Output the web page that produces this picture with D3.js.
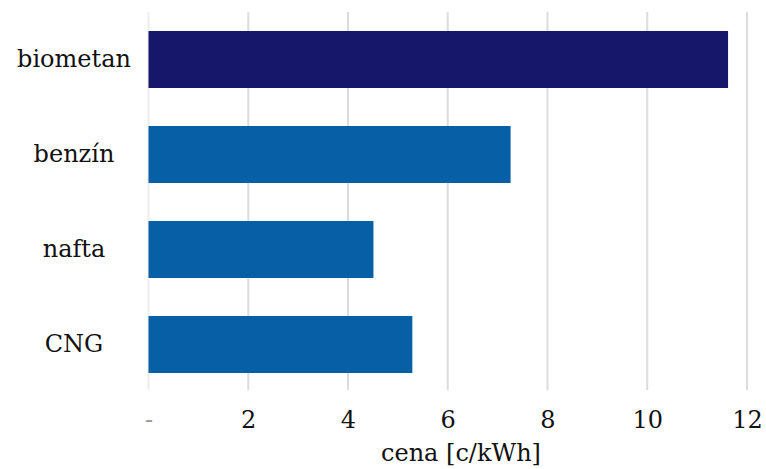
<!doctype html>
<html>
<head>
<style>
    body { margin: 0; background: #fff; }
    .grid line { stroke: #dcdcdc; stroke-width: 2; }
</style>
<script src="https://d3js.org/d3.v7.min.js"></script>
</head>
<body>
<svg width="766" height="469"></svg>
<script>
    var categories = ["biometan", "benzín", "nafta", "CNG"];
    var values = [11.62, 7.26, 4.51, 5.29];
    var colors = ["#16166a", "#075fa5", "#075fa5", "#075fa5"];
    var tickValues = [0, 2, 4, 6, 8, 10, 12];
    var tickLabels = ["-", "2", "4", "6", "8", "10", "12"];
    var axisTitle = "cena [c/kWh]";

    var serif = "'DejaVu Serif', serif";

    var svg = d3.select("svg");

    var x = d3.scaleLinear().domain([0, 12]).range([148.5, 747]);
    var y = d3.scaleBand().domain(categories).range([12, 392])
              .paddingInner(0.4).paddingOuter(0.2);

    // gridlines
    svg.append("g").attr("class", "grid")
       .selectAll("line")
       .data(tickValues)
       .enter().append("line")
       .attr("x1", function(d) { return x(d); })
       .attr("x2", function(d) { return x(d); })
       .attr("y1", 12)
       .attr("y2", 390)
       .style("stroke", function(d) { return d === 0 ? "#eeeeee" : null; });

    // bars
    svg.selectAll(".bar")
       .data(values)
       .enter().append("rect")
       .attr("class", "bar")
       .attr("x", x(0))
       .attr("y", function(d, i) { return y(categories[i]); })
       .attr("width", function(d) { return x(d) - x(0); })
       .attr("height", y.bandwidth())
       .attr("fill", function(d, i) { return colors[i]; });

    // category labels
    svg.selectAll(".cat")
       .data(categories)
       .enter().append("text")
       .attr("class", "cat")
       .attr("x", 74)
       .attr("y", function(d) { return y(d) + y.bandwidth() / 2; })
       .attr("dy", "0.3em")
       .attr("text-anchor", "middle")
       .style("font-family", serif)
       .style("font-size", "24px")
       .style("fill", "#111")
       .text(function(d) { return d; });

    // x axis tick labels
    var xAxis = d3.axisBottom(x).tickValues(tickValues)
                  .tickSize(0).tickPadding(0)
                  .tickFormat(function(d, i) { return tickLabels[i]; });
    var ax = svg.append("g")
       .attr("transform", "translate(0,410)")
       .call(xAxis);
    ax.select(".domain").remove();
    ax.selectAll("text")
      .attr("dy", "0.75em")
      .style("font-size", "24px")
      .style("font-family", serif)
      .style("fill", function(d) { return d === 0 ? "#999" : "#111"; });

    svg.append("text")
       .attr("x", 461)
       .attr("y", 461)
       .attr("text-anchor", "middle")
       .style("font-family", serif)
       .style("font-size", "24px")
       .style("fill", "#111")
       .text(axisTitle);
</script>
</body>
</html>
